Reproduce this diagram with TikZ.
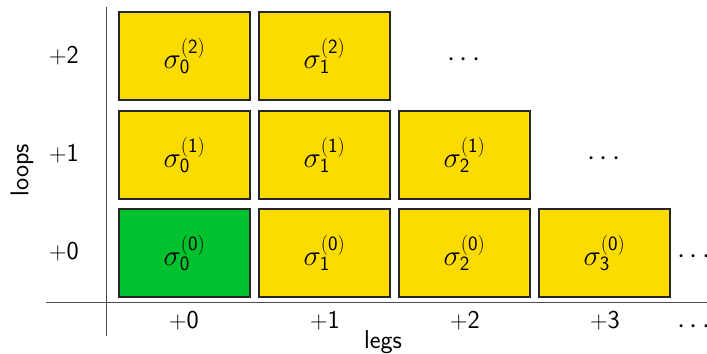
\documentclass[tikz,border=0pt]{standalone}
\renewcommand{\familydefault}{\sfdefault}
\definecolor{boxyellow}{HTML}{FCDC00}
\definecolor{boxgreen}{HTML}{00C22E}
\newcommand{\sig}[2]{$\sigma_{\mathsf{#1}}^{\mathsf{(#2)}}$}
\tikzset{
  cell/.style={draw=black!85, line width=1.4pt, fill=boxyellow, minimum width=3.93cm, minimum height=2.64cm, inner sep=0pt, font=\fontsize{25}{30}\selectfont},
  axis/.style={draw=black!70, line width=0.8pt},
  more/.style={font=\fontsize{25}{30}\selectfont},
}
\begin{document}
\begin{tikzpicture}[x=0.03cm, y=0.03cm, font=\fontsize{22}{26}\selectfont]
\useasboundingbox (0,0) rectangle (707,353);
\coordinate(Vt) at (106,346);
\coordinate(Vb) at (106,17);
\coordinate(Hl) at (46,51);
\coordinate(Hr) at (707,51);
\draw[axis](Vt) -- (Vb);
\draw[axis](Hl) -- (Hr);

\node[cell, fill=boxgreen](S00) at (184.5,100){\sig{0}{0}};
\node[cell](S10) at (324.5,100){\sig{1}{0}};
\node[cell](S20) at (464.5,100){\sig{2}{0}};
\node[cell](S30) at (604.5,100){\sig{3}{0}};
\node[more](D0) at (694,96){$\cdots$};
\node[cell](S01) at (184.5,198){\sig{0}{1}};
\node[cell](S11) at (324.5,198){\sig{1}{1}};
\node[cell](S21) at (464.5,198){\sig{2}{1}};
\node[more](D1) at (604,194){$\cdots$};
\node[cell](S02) at (184.5,297){\sig{0}{2}};
\node[cell](S12) at (324.5,297){\sig{1}{2}};
\node[more](D2) at (464,293){$\cdots$};

\node(L0) at (64,101){$+$0};
\node(L1) at (64,199){$+$1};
\node(L2) at (64,297){$+$2};
\node[rotate=90](loops) at (22,183){loops};

\node(G0) at (184,32){$+$0};
\node(G1) at (325,32){$+$1};
\node(G2) at (465,32){$+$2};
\node(G3) at (605,32){$+$3};
\node[more](G4) at (694,26){$\cdots$};
\node(legs) at (383,11){legs};
\end{tikzpicture}
\end{document}
